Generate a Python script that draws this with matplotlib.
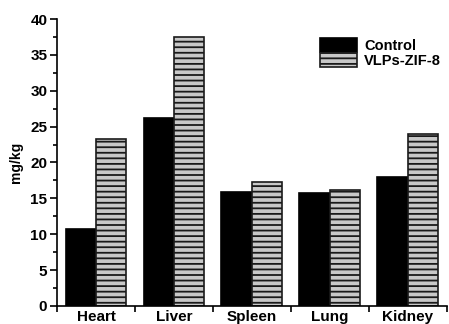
import matplotlib
matplotlib.use("Agg")
import matplotlib.pyplot as plt
import numpy as np
from matplotlib.ticker import MultipleLocator

categories = ["Heart", "Liver", "Spleen", "Lung", "Kidney"]
control = [10.7, 26.2, 15.9, 15.8, 18.0]
vlps_zif8 = [23.3, 37.5, 17.3, 16.1, 24.0]
series_names = ["Control", "VLPs-ZIF-8"]

plt.rcParams['font.family'] = ['Liberation Sans', 'DejaVu Sans']
plt.rcParams['font.weight'] = 'bold'
plt.rcParams['hatch.linewidth'] = 1.3

fig = plt.figure(figsize=(4.49, 3.24), dpi=100)
ax = fig.add_axes([0.127, 0.056, 0.868, 0.885])

x = np.arange(len(categories))
w = 0.39
ax.bar(x - w/2, control, w, color='black', edgecolor='black', linewidth=1.2, label=series_names[0])
ax.bar(x + w/2, vlps_zif8, w, color='#c8c8c8', edgecolor='#1a1a1a', linewidth=1.2,
       hatch='---', label=series_names[1])

ax.set_xlim(-0.5, len(categories) - 0.5)
ax.set_ylim(0, 40)
ax.yaxis.set_major_locator(MultipleLocator(5))
ax.yaxis.set_minor_locator(MultipleLocator(2.5))
ax.set_xticks(x)
ax.set_xticklabels(categories, fontsize=11, fontweight='bold')
ax.set_xticks(np.arange(-0.5, len(categories), 1.0), minor=True)
ax.tick_params(axis='x', which='major', length=0, pad=3)
ax.tick_params(axis='x', which='minor', length=4, width=1.2, direction='out')
ax.tick_params(axis='y', which='major', length=5, width=1.2, labelsize=11, pad=2)
ax.tick_params(axis='y', which='minor', length=3, width=1.2)
for lab in ax.get_yticklabels():
    lab.set_fontweight('bold')

for s in ['top', 'right']:
    ax.spines[s].set_visible(False)
for s in ['left', 'bottom']:
    ax.spines[s].set_linewidth(1.2)

ax.set_ylabel('mg/kg', fontsize=10, fontweight='bold', labelpad=5)

leg = ax.legend(loc='upper right', bbox_to_anchor=(1.0, 0.955), frameon=False,
                prop={'weight': 'bold', 'size': 10.5}, handlelength=2.5, handleheight=1.1,
                labelspacing=0.0, handletextpad=0.5, borderaxespad=0)

fig.savefig('out.png', dpi=100)
